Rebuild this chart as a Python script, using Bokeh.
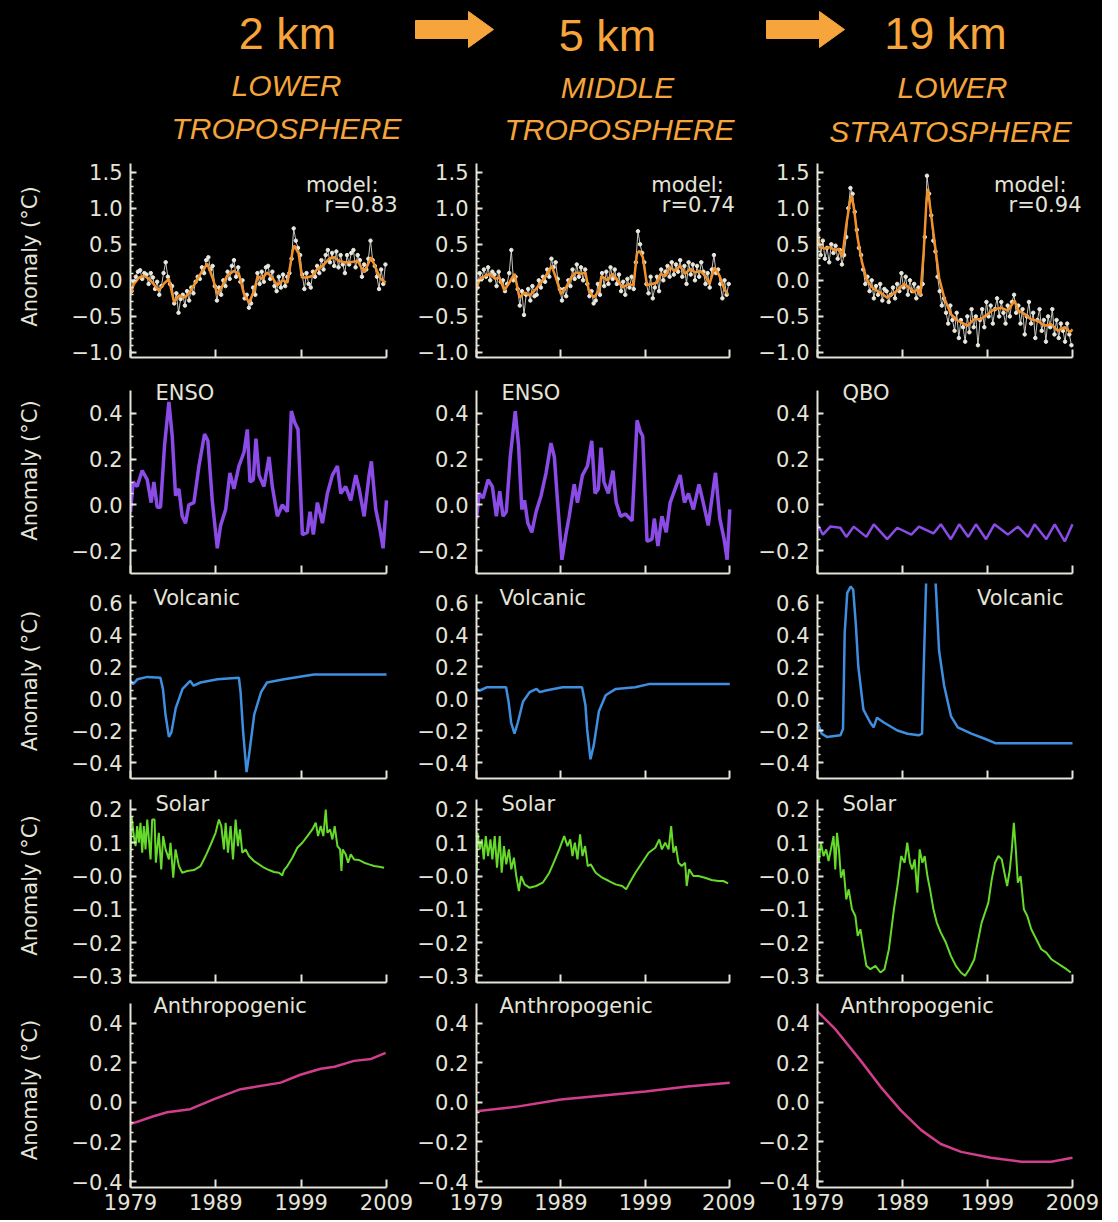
import numpy as np
from bokeh.plotting import figure
from bokeh.layouts import column, row
from bokeh.models import Range1d, FixedTicker, CustomJSTickFormatter, Label
from bokeh.embed import file_html
from bokeh.resources import INLINE

# ----------------------------------------------------------------- text
KM_TITLES = ["2 km", "5 km", "19 km"]
LAYER_1 = ["LOWER", "MIDDLE", "LOWER"]
LAYER_2 = ["TROPOSPHERE", "TROPOSPHERE", "STRATOSPHERE"]
R_TEXT = ["r=0.83", "r=0.74", "r=0.94"]
X_TICKS = [1979, 1989, 1999, 2009]

# ----------------------------------------------------------------- data
# observed anomalies, one value per quarter 1979-2008
obs_years = np.arange(1979.0, 2009.0, 0.25) + 0.125
obs_tlt = [
    -0.15, -0.02, 0.05, 0.12, 0.14, 0.02, 0.10, 0.08, -0.05, 0.10, 0.04, -0.12,
    -0.02, -0.20, -0.08, 0.10, 0.25, 0.05, -0.05, -0.08, -0.32, -0.18, -0.45, -0.26,
    -0.20, -0.35, -0.15, -0.28, -0.10, -0.18, -0.02, 0.05, 0.02, 0.18, 0.10, 0.28,
    0.32, 0.15, 0.20, -0.08, -0.28, -0.10, -0.20, 0.00, -0.08, 0.12, 0.02, 0.20,
    0.28, 0.05, 0.18, -0.02, 0.00, -0.25, -0.20, -0.38, -0.32, -0.10, -0.20, 0.10,
    -0.05, 0.12, -0.02, 0.18, 0.20, 0.02, 0.12, -0.08, -0.15, 0.05, -0.10, 0.08,
    -0.08, 0.05, 0.10, 0.30, 0.72, 0.55, 0.45, 0.35, 0.08, -0.12, 0.10, -0.05,
    -0.10, 0.12, 0.05, 0.20, 0.10, 0.28, 0.15, 0.35, 0.42, 0.25, 0.38, 0.20,
    0.40, 0.18, 0.35, 0.22, 0.10, 0.35, 0.22, 0.38, 0.42, 0.18, 0.35, 0.28,
    0.05, 0.22, 0.15, 0.30, 0.55, 0.28, 0.20, 0.05, -0.12, 0.15, -0.05, 0.22]
obs_tmt = [
    -0.10, 0.10, 0.02, 0.15, 0.05, 0.18, 0.00, 0.12, 0.08, -0.08, 0.12, -0.02,
    0.00, -0.15, -0.05, 0.10, 0.42, 0.00, 0.05, -0.12, -0.35, -0.15, -0.48, -0.20,
    -0.12, -0.28, -0.08, -0.22, -0.20, 0.00, -0.10, 0.05, -0.02, 0.15, 0.05, 0.30,
    0.18, 0.25, 0.02, -0.12, -0.28, -0.12, -0.22, 0.00, -0.08, 0.15, 0.02, 0.22,
    0.05, 0.18, 0.00, 0.15, -0.05, -0.22, -0.15, -0.32, -0.28, -0.05, -0.20, 0.10,
    -0.08, 0.12, -0.05, 0.18, 0.02, 0.15, -0.05, 0.08, -0.15, -0.02, -0.20, 0.02,
    -0.10, 0.05, -0.12, 0.25, 0.68, 0.50, 0.38, 0.25, -0.05, -0.18, 0.05, -0.25,
    -0.10, 0.05, -0.15, 0.15, 0.00, 0.12, 0.20, 0.05, 0.25, 0.08, 0.22, 0.12,
    0.28, 0.05, 0.20, -0.05, 0.25, 0.08, 0.22, 0.00, 0.20, 0.05, 0.25, 0.12,
    -0.05, 0.10, -0.10, 0.15, 0.35, 0.10, 0.15, -0.05, -0.25, 0.00, -0.20, -0.05]
obs_tls = [
    0.70, 0.35, 0.55, 0.30, 0.45, 0.25, 0.50, 0.38, 0.48, 0.30, 0.42, 0.22,
    0.35, 0.60, 1.00, 1.28, 1.20, 0.95, 0.70, 0.45, 0.35, 0.15, -0.05, 0.05,
    -0.15, 0.00, -0.25, -0.08, -0.20, -0.05, -0.28, -0.12, -0.15, -0.30, -0.20, -0.10,
    -0.25, -0.05, -0.15, 0.10, -0.10, 0.05, -0.20, 0.00, -0.15, -0.05, -0.25, -0.10,
    -0.20, -0.05, 0.60, 1.45, 1.20, 0.90, 0.55, 0.40, 0.05, -0.15, -0.35, -0.25,
    -0.45, -0.60, -0.35, -0.55, -0.70, -0.45, -0.80, -0.55, -0.65, -0.85, -0.50, -0.72,
    -0.40, -0.65, -0.50, -0.90, -0.55, -0.40, -0.65, -0.30, -0.50, -0.35, -0.60, -0.40,
    -0.25, -0.50, -0.30, -0.45, -0.60, -0.35, -0.50, -0.30, -0.20, -0.45, -0.35, -0.60,
    -0.40, -0.75, -0.50, -0.30, -0.60, -0.45, -0.80, -0.55, -0.40, -0.70, -0.55, -0.85,
    -0.50, -0.65, -0.40, -0.75, -0.55, -0.80, -0.60, -0.70, -0.85, -0.60, -0.75, -0.90]

# model fits (orange)
model_tlt_t = [1979.0, 1979.4, 1980.0, 1980.6, 1981.2, 1981.7, 1982.3, 1982.9, 1983.5, 1984.1,
               1984.7, 1985.3, 1985.8, 1986.4, 1987.2, 1988.0, 1988.6, 1989.2, 1989.8, 1990.3,
               1991.1, 1991.7, 1992.3, 1992.9, 1993.5, 1993.9, 1994.4, 1995.0, 1995.6, 1996.2,
               1996.8, 1997.4, 1998.0, 1998.2, 1998.7, 1999.1, 1999.7, 2000.3, 2000.9, 2001.5,
               2002.3, 2002.9, 2003.4, 2004.0, 2004.8, 2005.6, 2006.4, 2007.2, 2007.7, 2008.3, 2008.9]
model_tlt_v = [-0.19, -0.05, 0.04, 0.06, 0.02, -0.05, -0.14, -0.05, 0.02, -0.30,
               -0.21, -0.24, -0.19, -0.07, 0.09, 0.23, 0.04, -0.19, -0.07, 0.06,
               0.13, 0.09, -0.19, -0.31, -0.14, 0.06, 0.02, 0.11, 0.04, -0.07,
               0.00, -0.03, 0.41, 0.48, 0.37, 0.04, 0.04, 0.06, 0.16, 0.20,
               0.30, 0.32, 0.27, 0.25, 0.25, 0.27, 0.11, 0.32, 0.18, 0.02, -0.03]
model_tmt_t = [1979.0, 1979.3, 1980.0, 1980.6, 1981.2, 1981.7, 1982.3, 1982.9, 1983.5, 1984.1,
               1984.7, 1985.3, 1985.9, 1986.5, 1987.2, 1987.9, 1988.4, 1989.0, 1989.6, 1990.2,
               1990.8, 1991.4, 1991.9, 1992.3, 1992.9, 1993.5, 1993.8, 1994.5, 1995.1, 1995.7,
               1996.3, 1997.0, 1997.6, 1998.0, 1998.3, 1998.7, 1999.2, 1999.8, 2000.4, 2000.8,
               2001.4, 2001.9, 2002.5, 2003.1, 2003.7, 2004.3, 2004.9, 2005.5, 2006.1, 2006.6,
               2007.2, 2007.8, 2008.4, 2008.8]
model_tmt_v = [-0.14, 0.00, 0.06, 0.09, 0.02, 0.04, -0.14, -0.03, 0.09, -0.24,
               -0.17, -0.21, -0.14, -0.05, 0.06, 0.20, 0.04, -0.19, -0.10, 0.04,
               0.11, 0.09, 0.11, -0.14, -0.24, -0.14, 0.06, 0.00, 0.09, 0.00,
               -0.10, -0.05, -0.07, 0.37, 0.41, 0.32, -0.07, -0.05, -0.03, 0.09,
               0.06, 0.18, 0.13, 0.20, 0.09, 0.16, 0.11, 0.13, 0.06, -0.05,
               0.18, 0.06, -0.14, -0.19]
model_tls_t = [1979.0, 1979.3, 1979.9, 1980.5, 1981.1, 1981.5, 1981.9, 1982.4, 1982.8, 1983.0,
               1983.3, 1983.7, 1984.2, 1984.8, 1985.6, 1986.4, 1987.2, 1987.8, 1988.4, 1989.2,
               1989.8, 1990.4, 1990.7, 1991.1, 1991.5, 1991.8, 1992.0, 1992.2, 1992.7, 1993.3,
               1993.9, 1994.7, 1995.5, 1996.7, 1997.4, 1998.2, 1999.0, 1999.8, 2000.6, 2001.4,
               2002.2, 2002.6, 2003.4, 2004.1, 2004.9, 2005.7, 2006.5, 2007.3, 2008.1, 2008.7, 2009.0]
model_tls_v = [0.64, 0.46, 0.44, 0.46, 0.41, 0.44, 0.32, 0.78, 1.08, 1.18,
               0.99, 0.60, 0.27, 0.00, -0.12, -0.17, -0.24, -0.19, -0.14, -0.05,
               -0.10, -0.17, -0.12, -0.21, 0.41, 1.06, 1.27, 1.06, 0.60, 0.04,
               -0.24, -0.47, -0.56, -0.63, -0.54, -0.54, -0.47, -0.40, -0.38, -0.42,
               -0.28, -0.42, -0.47, -0.54, -0.56, -0.63, -0.61, -0.70, -0.65, -0.72, -0.68]

# ENSO / QBO components
enso_tlt_t = [1979.00, 1979.31, 1979.78, 1980.37, 1980.96, 1981.42, 1981.74, 1982.13, 1982.52, 1982.99,
              1983.50, 1983.89, 1984.28, 1984.67, 1985.06, 1985.45, 1985.84, 1986.43, 1987.02, 1987.68,
              1988.07, 1988.58, 1989.17, 1989.56, 1990.15, 1990.65, 1991.12, 1991.71, 1992.30, 1992.69,
              1993.00, 1993.39, 1993.70, 1994.06, 1994.64, 1995.23, 1995.62, 1996.21, 1996.79, 1997.38,
              1997.85, 1998.24, 1998.63, 1999.14, 1999.73, 2000.04, 2000.43, 2000.90, 2001.49, 2002.07,
              2002.66, 2003.25, 2003.64, 2004.22, 2004.81, 2005.40, 2005.79, 2006.38, 2006.96, 2007.23,
              2007.74, 2008.25, 2008.60, 2009.00]
enso_tlt_v = [-0.03, 0.10, 0.08, 0.15, 0.11, 0.01, 0.10, -0.01, -0.01, 0.26,
              0.45, 0.30, 0.04, 0.07, -0.05, -0.08, 0.00, 0.01, 0.17, 0.31,
              0.28, 0.02, -0.19, -0.09, -0.02, 0.14, 0.07, 0.17, 0.23, 0.33,
              0.10, 0.11, 0.29, 0.13, 0.08, 0.21, 0.08, -0.05, 0.00, -0.03,
              0.41, 0.36, 0.33, -0.13, -0.12, -0.03, -0.13, 0.01, -0.08, 0.05,
              0.13, 0.17, 0.05, 0.08, 0.02, 0.13, 0.07, -0.05, 0.13, 0.19,
              -0.02, -0.11, -0.19, 0.02]
enso_tmt_t = [1979.00, 1979.31, 1979.78, 1980.37, 1980.88, 1981.35, 1981.75, 1982.14, 1982.53, 1983.00,
              1983.59, 1983.98, 1984.37, 1984.69, 1985.08, 1985.55, 1986.06, 1986.65, 1987.24, 1987.82,
              1988.22, 1988.61, 1989.12, 1989.59, 1989.98, 1990.57, 1990.96, 1991.55, 1992.14, 1992.65,
              1993.04, 1993.43, 1993.75, 1994.10, 1994.61, 1995.16, 1995.55, 1996.06, 1996.65, 1997.43,
              1998.02, 1998.41, 1998.69, 1999.20, 1999.78, 2000.06, 2000.49, 2000.96, 2001.47, 2001.94,
              2002.53, 2003.12, 2003.63, 2004.10, 2004.69, 2005.35, 2005.86, 2006.45, 2007.04, 2007.31,
              2007.82, 2008.33, 2008.69, 2009.00]
enso_tmt_v = [-0.06, 0.05, 0.03, 0.11, 0.08, -0.05, 0.06, -0.05, -0.03, 0.21,
              0.41, 0.26, -0.02, 0.02, -0.08, -0.12, -0.03, 0.04, 0.14, 0.27,
              0.21, 0.01, -0.24, -0.13, -0.05, 0.09, 0.01, 0.13, 0.17, 0.28,
              0.05, 0.07, 0.25, 0.10, 0.05, 0.15, 0.01, -0.05, -0.04, -0.07,
              0.37, 0.32, 0.30, -0.16, -0.15, -0.06, -0.18, -0.05, -0.12, 0.01,
              0.07, 0.13, 0.01, 0.05, -0.02, 0.09, 0.01, -0.09, 0.07, 0.14,
              -0.06, -0.15, -0.24, -0.02]
qbo_tls_t = [1979.00, 1979.63, 1980.50, 1981.68, 1982.39, 1983.26, 1984.75, 1985.62, 1987.20, 1988.38,
             1990.04, 1990.94, 1992.64, 1993.51, 1994.69, 1995.67, 1996.74, 1997.64, 1998.83, 1999.81,
             2001.39, 2002.57, 2003.75, 2004.54, 2005.92, 2006.91, 2008.09, 2009.00]
qbo_tls_v = [-0.085, -0.13, -0.095, -0.10, -0.14, -0.095, -0.14, -0.085, -0.15, -0.10,
             -0.13, -0.095, -0.125, -0.085, -0.15, -0.085, -0.14, -0.085, -0.15, -0.085,
             -0.13, -0.095, -0.14, -0.085, -0.15, -0.085, -0.16, -0.085]

# volcanic components
volc_tlt_t = [1979.0, 1979.3, 1979.8, 1981.0, 1982.5, 1982.8, 1983.1, 1983.5, 1983.8, 1984.3,
              1985.1, 1986.0, 1986.4, 1987.2, 1989.2, 1991.7, 1991.9, 1992.2, 1992.6, 1992.9,
              1993.5, 1994.3, 1995.0, 1997.0, 2000.5, 2009.0]
volc_tlt_v = [0.11, 0.09, 0.12, 0.135, 0.13, 0.06, -0.10, -0.24, -0.21, -0.06,
              0.06, 0.11, 0.08, 0.10, 0.12, 0.13, 0.04, -0.21, -0.46, -0.35,
              -0.10, 0.04, 0.10, 0.12, 0.15, 0.15]
volc_tmt_t = [1979.0, 1979.4, 1980.2, 1982.5, 1982.8, 1983.1, 1983.5, 1983.9, 1984.5, 1985.3,
              1986.1, 1986.5, 1987.2, 1989.2, 1991.5, 1991.9, 1992.1, 1992.5, 1992.9, 1993.5,
              1994.3, 1995.5, 1997.8, 1999.4, 2009.0]
volc_tmt_v = [0.06, 0.05, 0.07, 0.07, -0.02, -0.15, -0.22, -0.15, -0.02, 0.04,
              0.06, 0.04, 0.05, 0.07, 0.07, -0.04, -0.19, -0.38, -0.29, -0.08,
              0.02, 0.06, 0.07, 0.09, 0.09]
volc_tls_t = [1979.0, 1979.5, 1980.1, 1981.7, 1982.0, 1982.2, 1982.5, 1982.9, 1983.2, 1983.5,
              1983.8, 1984.4, 1985.2, 1985.6, 1986.0, 1986.8, 1988.4, 1989.6, 1990.9, 1991.3,
              1991.5, 1992.05, 1992.7, 1992.9, 1993.3, 1993.9, 1994.7, 1995.5, 1997.1, 1998.6,
              2000.0, 2009.0]
volc_tls_v = [-0.15, -0.22, -0.24, -0.23, -0.19, 0.41, 0.66, 0.70, 0.68, 0.47,
              0.20, -0.07, -0.15, -0.18, -0.12, -0.15, -0.20, -0.22, -0.23, -0.22,
              0.20, 1.24, 0.78, 0.72, 0.30, 0.08, -0.11, -0.18, -0.22, -0.25,
              -0.28, -0.28]

# solar components
solar_tlt_t = [1979.00, 1979.12, 1979.39, 1979.59, 1979.78, 1979.98, 1980.17, 1980.37, 1980.56, 1980.76,
               1980.96, 1981.35, 1981.54, 1981.82, 1981.97, 1982.32, 1982.60, 1982.83, 1983.11, 1983.50,
               1983.69, 1984.01, 1984.28, 1984.67, 1985.06, 1985.65, 1986.43, 1987.21, 1987.80, 1988.39,
               1988.97, 1989.36, 1989.64, 1989.95, 1990.15, 1990.42, 1990.73, 1991.01, 1991.32, 1991.59,
               1991.83, 1992.10, 1992.49, 1992.88, 1993.47, 1994.06, 1994.64, 1995.23, 1995.82, 1996.40,
               1996.79, 1996.99, 1997.38, 1997.97, 1998.55, 1999.14, 1999.73, 2000.31, 2000.71, 2000.98,
               2001.29, 2001.60, 2001.88, 2002.07, 2002.39, 2002.66, 2002.93, 2003.25, 2003.56, 2003.72,
               2003.87, 2004.22, 2004.50, 2004.81, 2005.20, 2005.79, 2006.38, 2006.96, 2007.55, 2008.14,
               2008.72]
solar_tlt_v = [0.05, 0.18, 0.12, 0.09, 0.15, 0.10, 0.16, 0.07, 0.15, 0.08,
               0.17, 0.05, 0.17, 0.17, 0.04, 0.13, 0.02, 0.12, 0.08, 0.05,
               0.10, -0.005, 0.08, 0.03, 0.01, 0.015, 0.018, 0.03, 0.06, 0.094,
               0.13, 0.17, 0.15, 0.08, 0.16, 0.07, 0.15, 0.05, 0.17, 0.09,
               0.14, 0.07, 0.08, 0.06, 0.045, 0.035, 0.025, 0.018, 0.012, 0.01,
               0.002, 0.018, 0.03, 0.055, 0.085, 0.10, 0.12, 0.14, 0.16, 0.12,
               0.15, 0.12, 0.20, 0.13, 0.14, 0.11, 0.15, 0.09, 0.08, 0.015,
               0.08, 0.065, 0.04, 0.065, 0.05, 0.048, 0.04, 0.035, 0.03, 0.028,
               0.025]
solar_tmt_t = [1979.00, 1979.12, 1979.39, 1979.63, 1979.86, 1980.10, 1980.37, 1980.65, 1980.88, 1981.16,
               1981.43, 1981.75, 1981.98, 1982.25, 1982.53, 1982.84, 1983.12, 1983.43, 1983.71, 1984.02,
               1984.29, 1984.69, 1985.27, 1986.06, 1986.84, 1987.63, 1988.22, 1988.80, 1989.39, 1989.78,
               1990.10, 1990.37, 1990.65, 1990.96, 1991.27, 1991.55, 1991.86, 1992.18, 1992.53, 1993.12,
               1993.90, 1994.69, 1995.47, 1996.25, 1996.73, 1997.04, 1997.82, 1998.61, 1999.39, 2000.18,
               2000.65, 2000.96, 2001.35, 2001.75, 2002.06, 2002.33, 2002.61, 2002.92, 2003.31, 2003.71,
               2003.90, 2004.18, 2004.69, 2005.27, 2006.06, 2006.84, 2007.63, 2008.22, 2008.80]
solar_tmt_v = [0.01, 0.13, 0.08, 0.11, 0.05, 0.12, 0.06, 0.11, 0.05, 0.12,
               0.025, 0.12, 0.01, 0.09, 0.035, 0.08, 0.02, 0.055, 0.00, -0.045,
               0.00, -0.025, -0.035, -0.03, -0.02, 0.01, 0.045, 0.08, 0.12, 0.09,
               0.11, 0.06, 0.10, 0.05, 0.125, 0.06, 0.09, 0.03, 0.035, 0.01,
               -0.005, -0.015, -0.025, -0.03, -0.04, -0.025, 0.01, 0.04, 0.07, 0.085,
               0.11, 0.08, 0.10, 0.08, 0.15, 0.07, 0.09, 0.04, 0.03, 0.04,
               -0.03, 0.02, 0.00, 0.00, -0.005, -0.012, -0.015, -0.015, -0.022]
solar_tls_t = [1979.00, 1979.16, 1979.39, 1979.71, 1980.02, 1980.30, 1980.58, 1980.89, 1981.09, 1981.29,
               1981.52, 1981.76, 1982.07, 1982.39, 1982.67, 1983.06, 1983.45, 1983.73, 1984.05, 1984.36,
               1984.75, 1985.23, 1985.82, 1986.41, 1986.88, 1987.40, 1987.99, 1988.46, 1988.85, 1989.25,
               1989.56, 1989.88, 1990.15, 1990.43, 1990.75, 1991.02, 1991.34, 1991.61, 1991.93, 1992.24,
               1992.64, 1993.03, 1993.51, 1994.10, 1994.69, 1995.28, 1995.87, 1996.34, 1996.86, 1997.45,
               1997.92, 1998.31, 1998.71, 1999.10, 1999.50, 1999.89, 2000.28, 2000.68, 2000.99, 2001.31,
               2001.63, 2001.86, 2002.10, 2002.33, 2002.57, 2002.89, 2003.28, 2003.68, 2004.15, 2004.74,
               2005.33, 2005.92, 2006.51, 2007.10, 2007.70, 2008.29, 2008.80]
solar_tls_v = [0.08, 0.04, 0.10, 0.06, 0.08, 0.045, 0.08, 0.12, 0.02, 0.13,
               0.08, -0.005, 0.02, -0.07, -0.04, -0.10, -0.12, -0.18, -0.16, -0.21,
               -0.27, -0.28, -0.27, -0.29, -0.28, -0.22, -0.10, -0.02, 0.06, 0.04,
               0.10, 0.04, 0.02, 0.05, -0.05, 0.08, 0.04, 0.06, 0.00, -0.04,
               -0.10, -0.14, -0.17, -0.20, -0.24, -0.27, -0.29, -0.30, -0.28, -0.25,
               -0.19, -0.14, -0.11, -0.08, -0.01, 0.04, 0.06, 0.05, 0.01, -0.03,
               0.02, 0.08, 0.16, 0.08, -0.02, 0.00, -0.10, -0.12, -0.16, -0.19,
               -0.22, -0.23, -0.25, -0.26, -0.27, -0.28, -0.29]

# anthropogenic components
anth_tlt_t = [1979.0, 1981.7, 1983.3, 1986.0, 1988.8, 1991.9, 1996.6, 1998.9, 2001.3, 2002.9, 2005.2, 2007.2, 2008.9]
anth_tlt_v = [-0.11, -0.07, -0.05, -0.034, 0.017, 0.067, 0.10, 0.14, 0.17, 0.18, 0.21, 0.22, 0.25]
anth_tmt_t = [1979.0, 1984.0, 1989.0, 1994.0, 1999.0, 2004.0, 2009.0]
anth_tmt_v = [-0.045, -0.02, 0.015, 0.035, 0.055, 0.08, 0.10]
anth_tls_t = [1979.0, 1981.1, 1984.1, 1986.4, 1988.8, 1991.2, 1993.5, 1995.9, 1999.4, 2003.0, 2006.5, 2009.0]
anth_tls_v = [0.46, 0.37, 0.21, 0.08, -0.04, -0.14, -0.21, -0.25, -0.28, -0.30, -0.30, -0.28]

# ----------------------------------------------------------------- style
FG = "#e4e4d8"
HDR = "#f6a43c"
MODEL_C = "#f0912c"
OBS_C = "#e8e8de"
ENSO_C = "#8a4be6"
VOLC_C = "#3f8fe0"
SOLAR_C = "#66d92a"
ANTH_C = "#d13e8c"
FONT = "DejaVu Sans"
HFONT = "Liberation Sans"
BLACK = {"background-color": "#000000"}

# (width, left border, right gap beyond the axis end) per column
COLS = [(414, 130, 28), (341, 59, 26), (347, 62, 30)]
# (height, gap above the axis top, bottom border) per row
ROWS = [(212, 8, 10), (216, 23, 10), (205, 11, 10), (204, 11, 10), (228, 11, 33)]
HEADER_H = 155

YFMT = """
var v = Math.abs(tick) < 1e-9 ? 0 : tick;
var s = Math.abs(v).toFixed(1);
if (v < 0 || (negz && v === 0)) { return '\\u2212' + s; }
return s;
"""


def panel(ci, ri, yr, yticks, mstep, negz=False):
    W, L, R = COLS[ci]
    H, T, B = ROWS[ri]
    fw = W - L - R
    fh = H - T - B
    y0, y1 = yr
    # the frame reaches the canvas top/right so labels are never cut;
    # the axes themselves are bounded to the real data window
    y_top = y1 + T * (y1 - y0) / fh
    x_end = 2009 + R * 30.0 / fw
    p = figure(width=W, height=H, x_range=Range1d(1979, x_end), y_range=Range1d(y0, y_top),
               output_backend="svg", toolbar_location=None,
               min_border_left=L, min_border_right=0, min_border_top=0, min_border_bottom=B,
               background_fill_color="black", border_fill_color="black",
               outline_line_color=None, styles=BLACK)
    p.grid.visible = False
    xa, ya = p.xaxis[0], p.yaxis[0]
    for ax in (xa, ya):
        ax.axis_line_color = FG
        ax.axis_line_width = 2
        ax.major_tick_line_color = FG
        ax.major_tick_line_width = 2
        ax.minor_tick_line_color = FG
        ax.minor_tick_line_width = 1.5
        ax.major_tick_out = 0
        ax.minor_tick_out = 0
        ax.major_label_text_color = FG
        ax.major_label_text_font = FONT
        ax.major_label_text_font_size = "21px"
    xa.bounds = (1979, 2009)
    ya.bounds = (y0, y1)
    xa.ticker = FixedTicker(ticks=X_TICKS, minor_ticks=[])
    xa.major_tick_in = 8
    if ri == 4:
        xa.major_label_standoff = 6
    else:
        xa.formatter = CustomJSTickFormatter(code="return '';")
        xa.major_label_text_font_size = "1px"
        xa.major_label_standoff = 0
    minors = [float(v) for v in np.round(np.arange(yticks[0], yticks[-1] + 1e-9, mstep), 4)]
    ya.ticker = FixedTicker(ticks=yticks, minor_ticks=minors)
    ya.formatter = CustomJSTickFormatter(args=dict(negz=negz), code=YFMT)
    ya.major_tick_in = 6
    ya.minor_tick_in = 3
    ya.major_label_standoff = 8
    if ci == 0:
        ya.axis_label = "Anomaly (°C)"
        ya.axis_label_text_font = FONT
        ya.axis_label_text_font_style = "normal"
        ya.axis_label_text_font_size = "21px"
        ya.axis_label_text_color = FG
        ya.axis_label_standoff = 27
    return p


def tag(p, text, x, y, xoff, align="left"):
    p.add_layout(Label(x=x, y=y, x_offset=xoff, text=text, text_color=FG,
                       text_font=FONT, text_font_size="21px",
                       text_align=align, text_baseline="middle"))


rows = []

# row 1: observations + model
r1 = []
for ci, (obs, mt, mv, off1, off2) in enumerate([
        (obs_tlt, model_tlt_t, model_tlt_v, -8, 11),
        (obs_tmt, model_tmt_t, model_tmt_v, -6, 5),
        (obs_tls, model_tls_t, model_tls_v, -6, 9)]):
    p = panel(ci, 0, (-1.07, 1.62), [-1.0, -0.5, 0.0, 0.5, 1.0, 1.5], 0.1)
    p.line(obs_years, obs, color=OBS_C, line_width=1, line_alpha=0.85)
    p.scatter(obs_years, obs, size=3.5, color=OBS_C, marker="circle")
    p.line(mt, mv, color=MODEL_C, line_width=2.5)
    tag(p, "model:", 2009, 1.315, off1, "right")
    tag(p, R_TEXT[ci], 2009, 1.04, off2, "right")
    r1.append(p)
rows.append(r1)

# row 2: ENSO / QBO
r2 = []
for ci, (t, v, name) in enumerate([(enso_tlt_t, enso_tlt_v, "ENSO"),
                                   (enso_tmt_t, enso_tmt_v, "ENSO"),
                                   (qbo_tls_t, qbo_tls_v, "QBO")]):
    p = panel(ci, 1, (-0.3, 0.5), [-0.2, 0.0, 0.2, 0.4], 0.05)
    p.line(t, v, color=ENSO_C, line_width=3.5 if ci < 2 else 2.5)
    tag(p, name, 1979, 0.49, 25)
    r2.append(p)
rows.append(r2)

# row 3: volcanic
r3 = []
for ci, (t, v) in enumerate([(volc_tlt_t, volc_tlt_v), (volc_tmt_t, volc_tmt_v),
                             (volc_tls_t, volc_tls_v)]):
    p = panel(ci, 2, (-0.5, 0.65), [-0.4, -0.2, 0.0, 0.2, 0.4, 0.6], 0.05)
    p.line(t, v, color=VOLC_C, line_width=2.5)
    if ci < 2:
        tag(p, "Volcanic", 1979, 0.63, 23)
    else:
        tag(p, "Volcanic", 2009, 0.63, -9, "right")
    r3.append(p)
rows.append(r3)

# row 4: solar
r4 = []
for ci, (t, v) in enumerate([(solar_tlt_t, solar_tlt_v), (solar_tmt_t, solar_tmt_v),
                             (solar_tls_t, solar_tls_v)]):
    p = panel(ci, 3, (-0.32, 0.23), [-0.3, -0.2, -0.1, 0.0, 0.1, 0.2], 0.02, negz=True)
    p.line(t, v, color=SOLAR_C, line_width=2)
    tag(p, "Solar", 1979, 0.215, 25)
    r4.append(p)
rows.append(r4)

# row 5: anthropogenic
r5 = []
for ci, (t, v) in enumerate([(anth_tlt_t, anth_tlt_v), (anth_tmt_t, anth_tmt_v),
                             (anth_tls_t, anth_tls_v)]):
    p = panel(ci, 4, (-0.43, 0.5), [-0.4, -0.2, 0.0, 0.2, 0.4], 0.05)
    p.line(t, v, color=ANTH_C, line_width=2.5)
    tag(p, "Anthropogenic", 1979, 0.485, 23)
    r5.append(p)
rows.append(r5)

# ----------------------------------------------------------------- header
TOTAL_W = sum(c[0] for c in COLS)
hdr = figure(width=TOTAL_W, height=HEADER_H, x_range=Range1d(0, TOTAL_W),
             y_range=Range1d(HEADER_H, 0),
             output_backend="svg", toolbar_location=None, x_axis_type=None, y_axis_type=None,
             min_border=0, background_fill_color="black", border_fill_color="black",
             outline_line_color=None, styles=BLACK)
hdr.grid.visible = False
km_pos = [(287, 33), (607, 35), (945, 33)]
l1_pos = [(286, 85), (617, 87), (952, 87)]
l2_pos = [(286, 128), (619, 129), (950, 131)]
for i in range(3):
    hdr.add_layout(Label(x=km_pos[i][0], y=km_pos[i][1], text=KM_TITLES[i], text_color=HDR,
                         text_font=HFONT, text_font_size="45px",
                         text_align="center", text_baseline="middle"))
    hdr.add_layout(Label(x=l1_pos[i][0], y=l1_pos[i][1], text=LAYER_1[i], text_color=HDR,
                         text_font=HFONT, text_font_size="30px", text_font_style="italic",
                         text_align="center", text_baseline="middle"))
    hdr.add_layout(Label(x=l2_pos[i][0], y=l2_pos[i][1], text=LAYER_2[i], text_color=HDR,
                         text_font=HFONT, text_font_size="30px", text_font_style="italic",
                         text_align="center", text_baseline="middle"))
for x0 in (415, 766):
    hdr.patch([x0, x0 + 53, x0 + 53, x0 + 78, x0 + 53, x0 + 53, x0],
              [20, 20, 11, 29, 47, 38, 38], color=HDR)

layout = column([hdr] + [row(r, styles=BLACK) for r in rows], styles=BLACK)

html = file_html(layout, INLINE, title="Anomaly components")
html = html.replace("<body", '<body style="background-color:#000000;"', 1)
open("out.html", "w").write(html)
